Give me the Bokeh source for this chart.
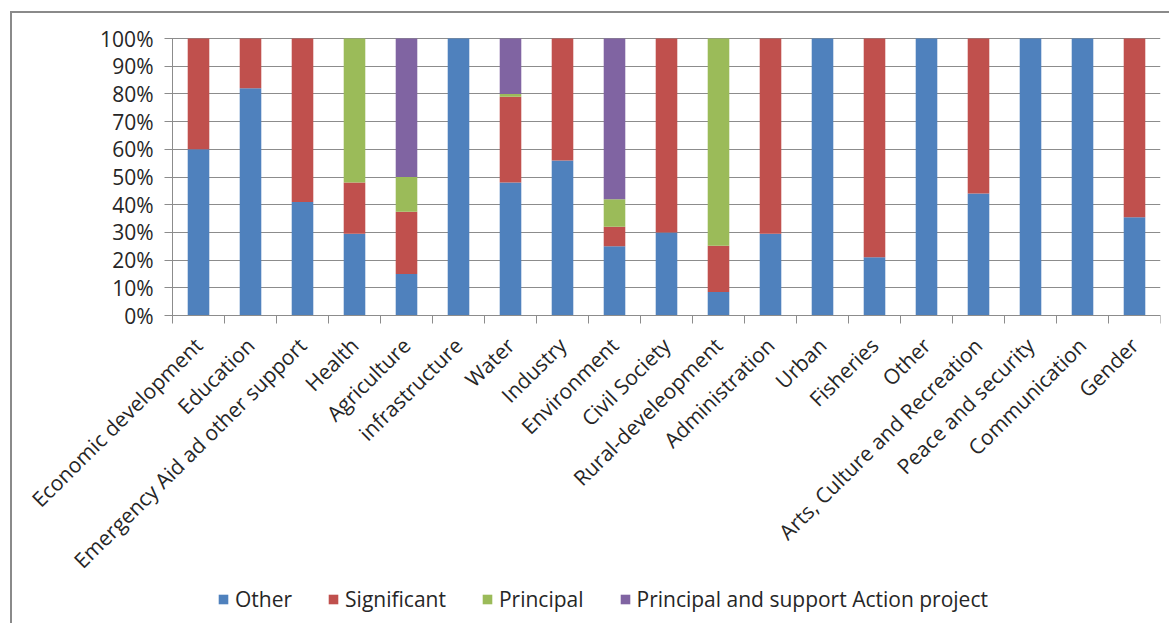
from bokeh.plotting import figure
from bokeh.models import ColumnDataSource, FixedTicker, Legend, LegendItem, Range1d, PrintfTickFormatter
from bokeh.embed import file_html
from bokeh.resources import INLINE

categories = ["Economic development", "Education", "Emergency Aid ad other support", "Health",
              "Agriculture", "infrastructure", "Water", "Industry", "Environment", "Civil Society",
              "Rural-develeopment", "Administration", "Urban", "Fisheries", "Other",
              "Arts, Culture and Recreation", "Peace and security", "Communication", "Gender"]
other       = [60, 82, 41, 29.5, 15, 100, 48, 56, 25, 30, 8.5, 29.5, 100, 21, 100, 44, 100, 100, 35.5]
significant = [40, 18, 59, 18.5, 22.5, 0, 31, 44, 7, 70, 16.7, 70.5, 0, 79, 0, 56, 0, 0, 64.5]
principal   = [0, 0, 0, 52, 12.5, 0, 1, 0, 10, 0, 74.8, 0, 0, 0, 0, 0, 0, 0, 0]
psa         = [0, 0, 0, 0, 50, 0, 20, 0, 58, 0, 0, 0, 0, 0, 0, 0, 0, 0, 0]
series_names = ["Other", "Significant", "Principal", "Principal and support Action project"]
colors = ["#4F81BD", "#C0504D", "#9BBB59", "#8064A2"]
y_ticks = [0, 10, 20, 30, 40, 50, 60, 70, 80, 90, 100]

n = len(categories)
centers = [i + 0.5 for i in range(n)]
bounds = [float(i) for i in range(n + 1)]

src = ColumnDataSource(dict(x=centers, s0=other, s1=significant, s2=principal, s3=psa))

FONT = "Open Sans"
GRAY = "#8c8c8c"
TXT = "#262626"
FS = "21px"

# The frame spans the whole chart area so that tick labels and legend are not clipped:
# the bar area (0..19 x 0..100) sits inside it, 160 px from the left and 25 px from the top.
CAT_PX = 52.0                     # px per category
PCT_PX = 2.77                     # px per percent
FRAME_W, FRAME_H = 1148, 602
LEFT_PAD_PX = 160
TOP_PAD_PX = 25
x_start = -LEFT_PAD_PX / CAT_PX
y_end = 100 + TOP_PAD_PX / PCT_PX
y_start = y_end - FRAME_H / PCT_PX
GRID_LEN = int(n * CAT_PX)

p = figure(frame_width=FRAME_W, frame_height=FRAME_H, output_backend="svg", toolbar_location=None,
           x_range=Range1d(x_start, n), y_range=Range1d(y_start, y_end),
           min_border_left=0, min_border_right=9, min_border_top=0, min_border_bottom=8)
p.margin = (11, 0, 0, 10)
p.styles = {"border-left": "2px solid #8a8a8a", "border-top": "2px solid #8a8a8a"}
p.outline_line_color = None
p.background_fill_color = "white"
p.border_fill_color = "white"

renderers = p.vbar_stack(["s0", "s1", "s2", "s3"], x="x", width=0.415, color=colors,
                         line_color=None, source=src)

# y axis at x = 0; its inward ticks form the horizontal gridlines (behind the bars)
p.yaxis.fixed_location = 0
p.yaxis.level = "underlay"
p.yaxis.ticker = FixedTicker(ticks=y_ticks)
p.yaxis.bounds = (0, 100)
p.yaxis.formatter = PrintfTickFormatter(format="%d%%")
p.yaxis.axis_line_color = GRAY
p.yaxis.major_tick_line_color = GRAY
p.yaxis.major_tick_out = 8
p.yaxis.major_tick_in = GRID_LEN
p.yaxis.minor_tick_line_color = None
p.yaxis.major_label_text_font = FONT
p.yaxis.major_label_text_font_size = FS
p.yaxis.major_label_text_color = TXT
p.yaxis.major_label_standoff = 11

# x axis at 0%: tick marks between categories, rotated category labels
p.xaxis.fixed_location = 0
p.xaxis.ticker = FixedTicker(ticks=centers, minor_ticks=bounds)
p.xaxis.bounds = (0, n)
p.xaxis.major_label_overrides = {c: lab for c, lab in zip(centers, categories)}
p.xaxis.major_label_orientation = 0.78
p.xaxis.axis_line_color = GRAY
p.xaxis.major_tick_line_color = None
p.xaxis.major_tick_out = 0
p.xaxis.major_tick_in = 0
p.xaxis.minor_tick_line_color = GRAY
p.xaxis.minor_tick_out = 8
p.xaxis.minor_tick_in = 0
p.xaxis.major_label_text_font = FONT
p.xaxis.major_label_text_font_size = FS
p.xaxis.major_label_text_color = TXT
p.xaxis.major_label_standoff = 18

p.xgrid.grid_line_color = None
p.ygrid.grid_line_color = None

legend = Legend(items=[LegendItem(label=nm, renderers=[r]) for nm, r in zip(series_names, renderers)],
                orientation="horizontal", location=(LEFT_PAD_PX + 45, 2),
                glyph_width=12, glyph_height=12, label_standoff=6, spacing=35,
                padding=0, margin=0, border_line_color=None, background_fill_alpha=0,
                label_text_font=FONT, label_text_font_size=FS, label_text_color=TXT)
p.add_layout(legend, "center")

open("out.html", "w").write(file_html(p, INLINE))
